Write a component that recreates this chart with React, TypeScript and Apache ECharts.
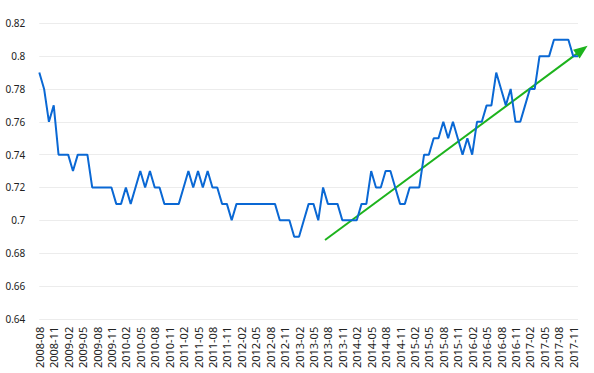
import React, { useEffect, useRef } from "react";
import * as echarts from "echarts";

const values: number[] = [
  0.79, 0.78, 0.76, 0.77, 0.74, 0.74, 0.74, 0.73, 0.74, 0.74,
  0.74, 0.72, 0.72, 0.72, 0.72, 0.72, 0.71, 0.71, 0.72, 0.71,
  0.72, 0.73, 0.72, 0.73, 0.72, 0.72, 0.71, 0.71, 0.71, 0.71,
  0.72, 0.73, 0.72, 0.73, 0.72, 0.73, 0.72, 0.72, 0.71, 0.71,
  0.70, 0.71, 0.71, 0.71, 0.71, 0.71, 0.71, 0.71, 0.71, 0.71,
  0.70, 0.70, 0.70, 0.69, 0.69, 0.70, 0.71, 0.71, 0.70, 0.72,
  0.71, 0.71, 0.71, 0.70, 0.70, 0.70, 0.70, 0.71, 0.71, 0.73,
  0.72, 0.72, 0.73, 0.73, 0.72, 0.71, 0.71, 0.72, 0.72, 0.72,
  0.74, 0.74, 0.75, 0.75, 0.76, 0.75, 0.76, 0.75, 0.74, 0.75,
  0.74, 0.76, 0.76, 0.77, 0.77, 0.79, 0.78, 0.77, 0.78, 0.76,
  0.76, 0.77, 0.78, 0.78, 0.80, 0.80, 0.80, 0.81, 0.81, 0.81,
  0.81, 0.80, 0.80,
];

const startYear = 2008;
const startMonth = 8;
const categories: string[] = values.map((_, i) => {
  const m = startMonth - 1 + i;
  const y = startYear + Math.floor(m / 12);
  const mm = (m % 12) + 1;
  return `${y}-${mm < 10 ? "0" + mm : mm}`;
});

// trend arrow: [month index, value] (start, tip)
const trendStart: [number, number] = [59.4, 0.688];
const trendTip: [number, number] = [114.0, 0.8063];

const yMin = 0.64;
const yMax = 0.82;
const yStep = 0.02;

export default function App() {
  const ref = useRef<HTMLDivElement>(null);
  useEffect(() => {
    document.body.style.margin = "0";
    if (!ref.current) return;
    const chart = echarts.init(ref.current, undefined, { renderer: "svg" });
    chart.setOption({
      animation: false,
      backgroundColor: "#ffffff",
      grid: { left: 39.3, right: 16, top: 23.3, bottom: 54.2, containLabel: false },
      xAxis: [
        {
          type: "category",
          data: categories,
          boundaryGap: false,
          axisLine: { show: false },
          axisTick: { show: false },
          axisLabel: {
            interval: 2,
            rotate: 90,
            fontSize: 11,
            color: "#222",
            fontFamily: "Noto Sans",
            margin: 8,
          },
          splitLine: { show: false },
        },
        {
          type: "value",
          min: 0,
          max: values.length - 1,
          show: false,
        },
      ],
      yAxis: {
        type: "value",
        min: yMin,
        max: yMax,
        interval: yStep,
        axisLine: { show: false },
        axisTick: { show: false },
        axisLabel: {
          fontSize: 10,
          color: "#222",
          fontFamily: "Noto Sans",
          margin: 14,
          formatter: (v: number) => String(parseFloat(v.toFixed(2))),
        },
        splitLine: { lineStyle: { color: "#ececec", width: 1 } },
      },
      series: [
        {
          type: "line",
          data: values,
          symbol: "none",
          lineStyle: { color: "#0a68d4", width: 2 },
          silent: true,
        },
      ],
    });

    const finder = { xAxisIndex: 1, yAxisIndex: 0 };
    const p0 = chart.convertToPixel(finder, trendStart) as number[];
    const p1 = chart.convertToPixel(finder, trendTip) as number[];
    if (p0 && p1) {
      const dx = p1[0] - p0[0];
      const dy = p1[1] - p0[1];
      const len = Math.sqrt(dx * dx + dy * dy);
      const ux = dx / len;
      const uy = dy / len;
      const headLen = 14;
      const halfW = 5.5;
      const bx = p1[0] - ux * headLen;
      const by = p1[1] - uy * headLen;
      const green = "#1db31d";
      chart.setOption({
        graphic: [
          {
            type: "line",
            silent: true,
            shape: { x1: p0[0], y1: p0[1], x2: bx + ux * 2, y2: by + uy * 2 },
            style: { stroke: green, lineWidth: 2 },
          },
          {
            type: "polygon",
            silent: true,
            shape: {
              points: [
                [p1[0], p1[1]],
                [bx - uy * halfW, by + ux * halfW],
                [bx + uy * halfW, by - ux * halfW],
              ],
            },
            style: { fill: green },
          },
        ],
      });
    }
    return () => chart.dispose();
  }, []);
  return <div ref={ref} style={{ width: 594, height: 373 }} />;
}
